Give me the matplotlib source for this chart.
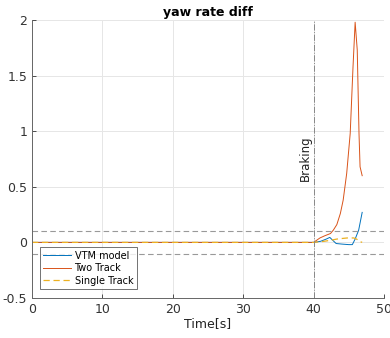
import numpy as np
import matplotlib.pyplot as plt

# yaw rate difference against time for the three models
t_vtm = [0, 10, 20, 30, 40, 41, 41.8, 42.3, 42.7, 43.2, 44.0, 45.0, 45.5, 45.9, 46.4, 46.9]
vtm = [0, 0, 0, 0, 0, 0.01, 0.03, 0.045, 0.02, -0.01, -0.015, -0.02, -0.02, 0.03, 0.11, 0.27]

t_two = [0, 10, 20, 30, 40, 40.9, 41.6, 42.4, 42.8, 43.3, 43.8, 44.2, 44.7, 45.2, 45.6, 45.9,
         46.2, 46.45, 46.6, 46.9]
two = [0, 0, 0, 0, 0, 0.04, 0.06, 0.08, 0.11, 0.16, 0.26, 0.38, 0.62, 0.98, 1.58, 1.98,
       1.73, 0.98, 0.68, 0.6]

t_single = [0, 10, 20, 30, 40, 41.5, 42.5, 43.3, 44.0, 44.8, 45.7, 46.1, 46.5, 46.9]
single = [0, 0, 0, 0, 0, 0.01, 0.02, 0.03, 0.035, 0.04, 0.04, 0.03, 0.01, 0.0]

threshold = 0.1
t_brake = 40

blue, orange, yellow = "#0072BD", "#D95319", "#EDB120"

fig = plt.figure(figsize=(3.9, 3.38), dpi=100)
ax = fig.add_axes([32 / 390, 40 / 338, 352 / 390, 278 / 338])

ax.plot(t_vtm, vtm, color=blue, lw=0.7, label="VTM model")
ax.plot(t_two, two, color=orange, lw=0.7, label="Two Track")
ax.plot(t_single, single, color=yellow, lw=0.9, ls=(0, (5, 3)), label="Single Track")

for y in (threshold, -threshold):
    ax.axhline(y, color="#999999", lw=0.8, ls=(0, (5, 3)))
ax.axvline(t_brake, color="#888888", lw=0.7, ls="-.")
ax.text(t_brake - 0.3, 0.76, "Braking", rotation=90, ha="right", va="center", fontsize=8.5,
        color="#222222")

ax.set_xlim(0, 50)
ax.set_ylim(-0.5, 2)
ax.set_xticks([0, 10, 20, 30, 40, 50])
ax.set_yticks([-0.5, 0, 0.5, 1, 1.5, 2])
ax.set_yticklabels(["-0.5", "0", "0.5", "1", "1.5", "2"])
ax.grid(True, color="#e6e6e6", lw=0.7)
ax.set_axisbelow(True)
for s in ("top", "right"):
    ax.spines[s].set_visible(False)
for s in ("left", "bottom"):
    ax.spines[s].set_color("#666666")
    ax.spines[s].set_linewidth(0.7)
ax.tick_params(direction="in", length=3, labelsize=9, colors="#333333", width=0.6)
ax.set_xlabel("Time[s]", fontsize=9, labelpad=1, color="#222222")
ax.set_title("yaw rate diff", fontsize=9, fontweight="bold", pad=3)

leg = ax.legend(loc="lower left", bbox_to_anchor=(8 / 352, 9 / 278), borderaxespad=0,
                fontsize=7, frameon=True, fancybox=False, handlelength=2.8,
                handletextpad=0.4, labelspacing=0.25, borderpad=0.35)
leg.get_frame().set_edgecolor("#333333")
leg.get_frame().set_linewidth(0.6)

fig.savefig("out.png", dpi=100)
